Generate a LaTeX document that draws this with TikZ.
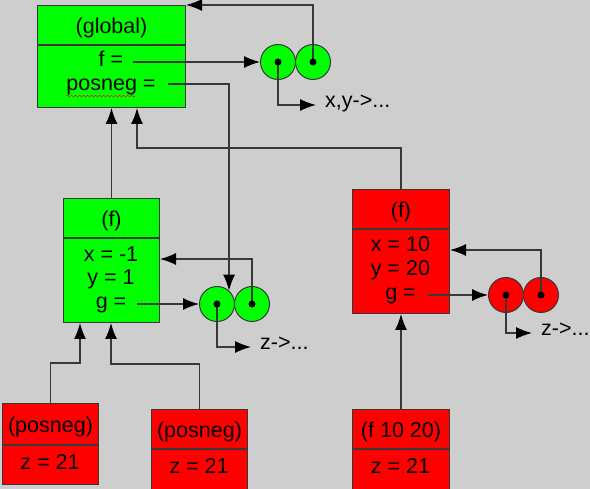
\documentclass[tikz,border=0pt]{standalone}
\usepackage{fontspec}
\setmainfont{Liberation Sans}
\usetikzlibrary{arrows.meta,calc,positioning,decorations.pathmorphing}
\definecolor{bggray}{RGB}{206,206,206}
\definecolor{envgreen}{RGB}{0,255,0}
\definecolor{envred}{RGB}{255,0,0}
\definecolor{linegray}{RGB}{56,56,56}
\tikzset{
	frame/.style = {draw=linegray, rectangle, inner sep=0pt, line width=1pt},
	head/.style = {frame, minimum height=39pt, text height=21pt, text depth=4pt},
	body/.style = {frame},
	txt/.style = {inner sep=0pt, anchor=base},
	cell/.style = {draw=linegray, circle, minimum size=35pt, inner sep=0pt, line width=1pt},
	link/.style = {draw=linegray, line width=1.3pt, ->}
}

\begin{document}
\begin{tikzpicture}[x=1pt, y=-1pt, font=\fontsize{21.5}{25}\selectfont, >={Latex[length=16pt, width=12pt, color=black]}]
\useasboundingbox [fill=bggray] (0,0) rectangle (590,489);

% global environment
\node [head, fill=envgreen, minimum width=148pt, anchor=north west] (glob) at (37,5) {(global)};
\node [body, fill=envgreen, minimum width=148pt, minimum height=62pt, anchor=north] (glob-b) at (glob.south) {};
\node [txt] (gf) at (111,67) {f =};
\node [txt] (gpn) at (111,91) {posneg =};
\draw [red, decorate, decoration={snake, amplitude=0.8pt, segment length=4pt}] ([yshift=-5pt]gpn.base west) -- ++(70,0);
\node [cell, fill=envgreen] (gc1) at (278,62) {};
\node [cell, fill=envgreen] (gc2) at (313,62) {};
\node [txt, anchor=mid west] (gxy) at (325,105) {x,y->...};

% frame of (f) from posneg
\node [head, fill=envgreen, minimum width=96pt, anchor=north west] (fg) at (63,198) {(f)};
\node [body, fill=envgreen, minimum width=96pt, minimum height=84pt, anchor=north] (fg-b) at (fg.south) {};
\node [txt] (fgx) at (111,262) {x = -1};
\node [txt] (fgy) at (111,285) {y = 1};
\node [txt] (fgg) at (111,309) {g =};
\node [cell, fill=envgreen] (fgc1) at (217,304) {};
\node [cell, fill=envgreen] (fgc2) at (252,304) {};
\node [txt, anchor=mid west] (fgz) at (260,347) {z->...};

% frame of (f 10 20)
\node [head, fill=envred, minimum width=97pt, anchor=north west] (fr) at (352,189) {(f)};
\node [body, fill=envred, minimum width=97pt, minimum height=84pt, anchor=north] (fr-b) at (fr.south) {};
\node [txt] (frx) at (400.5,252) {x = 10};
\node [txt] (fry) at (400.5,276) {y = 20};
\node [txt] (frg) at (400.5,300) {g =};
\node [cell, fill=envred] (frc1) at (506,295) {};
\node [cell, fill=envred] (frc2) at (541,295) {};
\node [txt, anchor=mid west] (frz) at (541,333) {z->...};

% calls
\node [head, fill=envred, minimum width=96pt, minimum height=41pt, anchor=north west] (pa) at (2,403) {(posneg)};
\node [body, fill=envred, minimum width=96pt, minimum height=39pt, anchor=north] (pa-b) at (pa.south) {};
\node [txt] (paz) at (50,470) {z = 21};
\node [head, fill=envred, minimum width=96pt, anchor=north west] (pb) at (151,409) {(posneg)};
\node [body, fill=envred, minimum width=96pt, minimum height=40pt, anchor=north] (pb-b) at (pb.south) {};
\node [txt] (pbz) at (199,474) {z = 21};
\node [head, fill=envred, minimum width=97pt, anchor=north west] (call) at (352,409) {(f 10 20)};
\node [body, fill=envred, minimum width=97pt, minimum height=40pt, anchor=north] (call-b) at (call.south) {};
\node [txt] (callz) at (400.5,474) {z = 21};

% connectors
\draw [link] ($(gf.east |- gc1.west)+(10,0)$) -- (gc1.west);
\draw [link] (gc2.center) |- (glob.north east);
\draw [link] (gc1.center) |- ([xshift=-9pt]gxy.mid west);
\draw [link] ($(gpn.base east)+(12,-7)$) -| (fgc1.48);
\draw [link] (fg.north) -- (glob-b.south);
\coordinate (jr) at (137,148);
\draw [link] (fr.north) |- (jr) -- (jr |- glob-b.south);

\draw [link] (fgc2.center) |- ($(fg-b.east |- fgx.base)+(0,-3)$);
\draw [link] ($(fgg.east |- fgc1.west)+(11,0)$) -- (fgc1.west);
\draw [link] (fgc1.center) |- ([xshift=-9pt]fgz.mid west);
\coordinate (ja) at (80,363);
\draw [link] (pa.north) |- (ja) -- (ja |- fg-b.south);
\coordinate (jb) at (111,364);
\draw [link] (pb.north) |- (jb) -- (jb |- fg-b.south);

\draw [link] (frc2.center) |- ($(fr-b.east |- frx.base)+(0,-2)$);
\draw [link] ($(frg.east |- frc1.west)+(12,0)$) -- (frc1.west);
\draw [link] (frc1.center) |- ([xshift=-9pt]frz.mid west);
\draw [link] (call.north) -- (fr-b.south);

% dots
\foreach \c in {gc1,gc2,fgc1,fgc2,frc1,frc2}
	\fill (\c) circle (3.5pt);
\end{tikzpicture}
\end{document}
